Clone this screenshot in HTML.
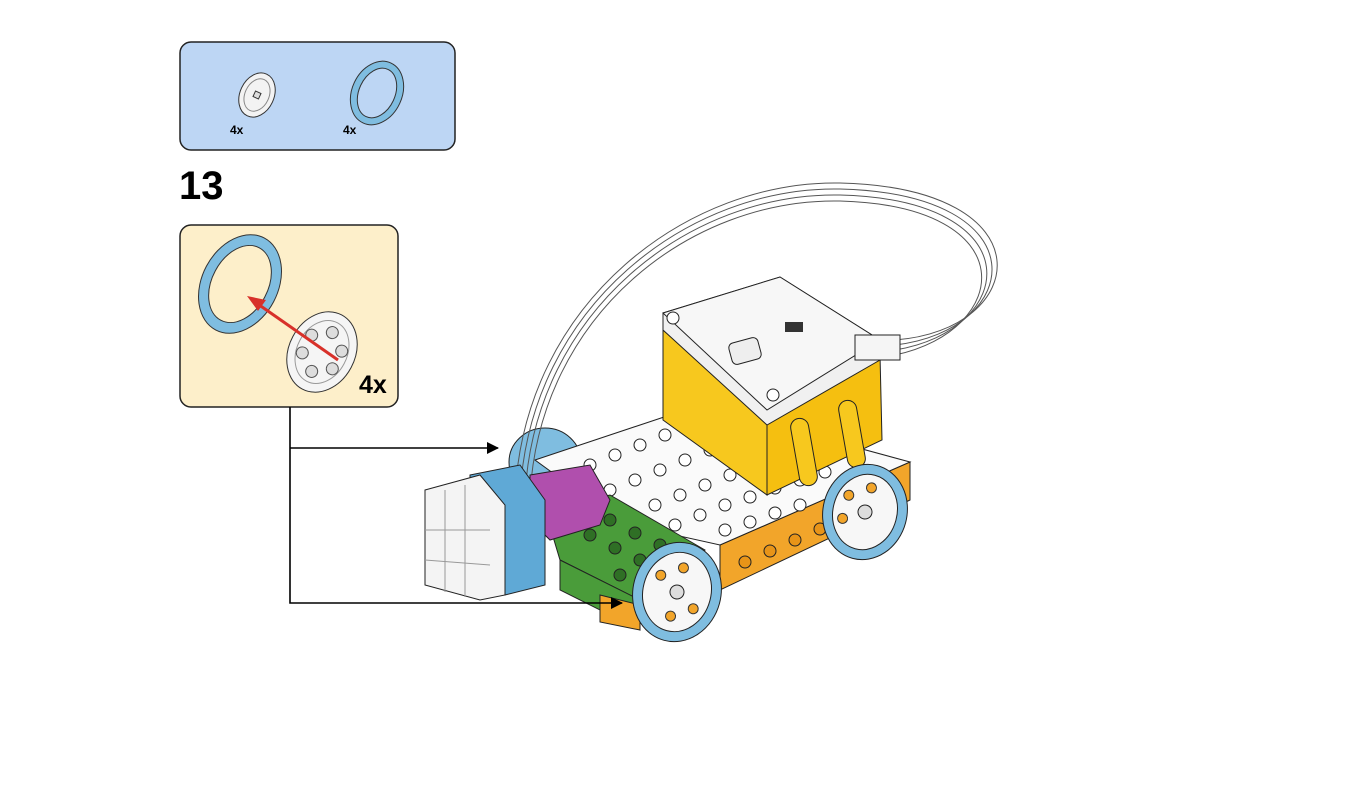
<!DOCTYPE html>
<html><head><meta charset="utf-8"><style>
html,body{margin:0;padding:0;background:#fff;}
svg{display:block;font-family:"Liberation Sans",sans-serif;}
</style></head><body>
<svg width="1349" height="803" viewBox="0 0 1349 803" xmlns="http://www.w3.org/2000/svg">
<defs>
<marker id="ar" markerWidth="12" markerHeight="12" refX="11" refY="6" orient="auto" markerUnits="userSpaceOnUse"><path d="M0,0 L12,6 L0,12z" fill="#000"/></marker>
</defs>
<!-- parts panel -->
<rect x="180" y="42" width="275" height="108" rx="11" fill="#bdd6f4" stroke="#222" stroke-width="1.5"/>
<g transform="translate(257,95) rotate(25)"><ellipse rx="17" ry="23" fill="#f3f3f3" stroke="#333"/><ellipse rx="12" ry="17" fill="none" stroke="#888"/><rect x="-3" y="-3" width="6" height="6" fill="#ddd" stroke="#333"/></g>
<g transform="translate(377,93) rotate(25)"><ellipse rx="25" ry="33" fill="#7fbde0" stroke="#333"/><ellipse rx="18" ry="26" fill="#bdd6f4" stroke="#333"/></g>
<text x="230" y="134" font-size="12" font-weight="bold">4x</text>
<text x="343" y="134" font-size="12" font-weight="bold">4x</text>
<text x="179" y="199" font-size="40" font-weight="bold">13</text>
<!-- step panel -->
<rect x="180" y="225" width="218" height="182" rx="11" fill="#fdefca" stroke="#222" stroke-width="1.5"/>
<g transform="translate(240,284) rotate(28)"><ellipse rx="38" ry="52" fill="#7fbde0" stroke="#333"/><ellipse rx="28" ry="41" fill="#fdefca" stroke="#333"/></g>
<g transform="translate(322,352) rotate(28)"><ellipse rx="33" ry="42" fill="#f5f5f5" stroke="#333"/><ellipse rx="25" ry="33" fill="none" stroke="#999"/>
<circle cx="0" cy="-22" r="6" fill="#ddd" stroke="#555"/><circle cx="0" cy="22" r="6" fill="#ddd" stroke="#555"/><circle cx="-17" cy="-10" r="6" fill="#ddd" stroke="#555"/><circle cx="17" cy="-10" r="6" fill="#ddd" stroke="#555"/><circle cx="-17" cy="10" r="6" fill="#ddd" stroke="#555"/><circle cx="17" cy="10" r="6" fill="#ddd" stroke="#555"/></g>
<line x1="338" y1="360" x2="255" y2="302" stroke="#d8312a" stroke-width="3"/>
<path d="M247,296 L266,300 L258,311z" fill="#d8312a"/>
<text x="359" y="393" font-size="25" font-weight="bold">4x</text>
<!-- back-left wheel -->
<ellipse cx="545" cy="462" rx="36" ry="34" fill="#7fbde0" stroke="#222"/>
<!-- orange beam -->
<polygon points="720,545 910,462 910,500 720,590" fill="#f2a52a" stroke="#222"/>
<g fill="#e89418" stroke="#222"><circle cx="745" cy="562" r="6"/><circle cx="770" cy="551" r="6"/><circle cx="795" cy="540" r="6"/><circle cx="820" cy="529" r="6"/><circle cx="845" cy="518" r="6"/></g>
<!-- white plate -->
<polygon points="535,460 700,405 910,462 720,545 630,525 590,500" fill="#fafafa" stroke="#222"/>
<g fill="#fff" stroke="#222">
<circle cx="590" cy="465" r="6"/><circle cx="615" cy="455" r="6"/><circle cx="640" cy="445" r="6"/><circle cx="665" cy="435" r="6"/>
<circle cx="610" cy="490" r="6"/><circle cx="635" cy="480" r="6"/><circle cx="660" cy="470" r="6"/><circle cx="685" cy="460" r="6"/><circle cx="710" cy="450" r="6"/>
<circle cx="655" cy="505" r="6"/><circle cx="680" cy="495" r="6"/><circle cx="705" cy="485" r="6"/><circle cx="730" cy="475" r="6"/><circle cx="755" cy="465" r="6"/>
<circle cx="675" cy="525" r="6"/><circle cx="700" cy="515" r="6"/><circle cx="725" cy="505" r="6"/><circle cx="750" cy="497" r="6"/><circle cx="775" cy="488" r="6"/><circle cx="800" cy="480" r="6"/><circle cx="825" cy="472" r="6"/>
<circle cx="725" cy="530" r="6"/><circle cx="750" cy="522" r="6"/><circle cx="775" cy="513" r="6"/><circle cx="800" cy="505" r="6"/>
</g>
<!-- green plate -->
<polygon points="545,510 610,495 705,550 640,600 560,560" fill="#4a9c3a" stroke="#222"/>
<polygon points="560,560 640,600 640,630 560,590" fill="#4a9c3a" stroke="#222"/>
<g fill="#2f6f25" stroke="#222"><circle cx="590" cy="535" r="6"/><circle cx="615" cy="548" r="6"/><circle cx="640" cy="560" r="6"/><circle cx="610" cy="520" r="6"/><circle cx="635" cy="533" r="6"/><circle cx="660" cy="545" r="6"/><circle cx="620" cy="575" r="6"/></g>
<polygon points="600,595 640,605 640,630 600,622" fill="#f2a52a" stroke="#222"/>
<!-- hub -->
<polygon points="663,330 767,420 767,495 663,420" fill="#f7c81e" stroke="#222"/>
<polygon points="767,420 880,355 882,440 767,495" fill="#f5bf10" stroke="#222"/>
<polygon points="663,313 780,277 880,340 880,360 767,425 663,330" fill="#f0f0f0" stroke="#222"/>
<polygon points="663,313 780,277 880,340 767,410" fill="#f7f7f7" stroke="#222"/>
<rect x="730" y="340" width="30" height="22" rx="5" fill="#eee" stroke="#222" transform="rotate(-15 745 351)"/>
<rect x="785" y="322" width="18" height="10" fill="#333"/>
<circle cx="673" cy="318" r="6" fill="#fff" stroke="#222"/><circle cx="773" cy="395" r="6" fill="#fff" stroke="#222"/>
<rect x="795" y="418" width="18" height="68" rx="9" fill="#f7c81e" stroke="#222" transform="rotate(-10 804 452)"/>
<rect x="843" y="400" width="18" height="68" rx="9" fill="#f7c81e" stroke="#222" transform="rotate(-10 852 434)"/>
<!-- cable -->
<g fill="none" stroke="#555" stroke-width="1">
<path d="M515,495 C525,300 690,180 840,183 C1050,188 1030,330 895,340"/>
<path d="M520,495 C530,305 690,186 840,189 C1042,194 1024,330 895,345"/>
<path d="M525,495 C535,310 690,192 840,195 C1034,200 1018,330 895,350"/>
<path d="M530,495 C540,315 690,198 840,201 C1026,206 1012,330 895,355"/>
</g>
<rect x="855" y="335" width="45" height="25" fill="#f5f5f5" stroke="#222"/>
<!-- magenta -->
<polygon points="530,475 590,465 610,500 600,525 550,540 530,520" fill="#b04fad" stroke="#222"/>
<!-- sensor -->
<polygon points="470,475 520,465 545,500 545,585 505,595 470,590" fill="#5fa9d6" stroke="#222"/>
<polygon points="425,490 480,475 505,505 505,595 480,600 425,585" fill="#f4f4f4" stroke="#222"/>
<g stroke="#999" fill="none"><line x1="425" y1="530" x2="490" y2="530"/><line x1="425" y1="560" x2="490" y2="565"/><line x1="445" y1="490" x2="445" y2="592"/><line x1="465" y1="485" x2="465" y2="597"/></g>
<!-- wheels -->
<g transform="translate(865,512) rotate(15)"><ellipse rx="42" ry="48" fill="#7fbde0" stroke="#222"/><ellipse rx="32" ry="38" fill="#f7f7f7" stroke="#222"/><circle r="7" fill="#ddd" stroke="#222"/>
<circle cx="0" cy="-25" r="5" fill="#f2a52a" stroke="#333"/><circle cx="-20" cy="-12" r="5" fill="#f2a52a" stroke="#333"/><circle cx="-20" cy="12" r="5" fill="#f2a52a" stroke="#333"/></g>
<g transform="translate(677,592) rotate(15)"><ellipse rx="44" ry="50" fill="#7fbde0" stroke="#222"/><ellipse rx="34" ry="40" fill="#f7f7f7" stroke="#222"/><circle r="7" fill="#ddd" stroke="#222"/>
<circle cx="0" cy="-25" r="5" fill="#f2a52a" stroke="#333"/><circle cx="0" cy="25" r="5" fill="#f2a52a" stroke="#333"/><circle cx="-20" cy="-12" r="5" fill="#f2a52a" stroke="#333"/><circle cx="20" cy="12" r="5" fill="#f2a52a" stroke="#333"/></g>
<!-- connectors (on top) -->
<path d="M290,407 V603 H622" fill="none" stroke="#000" stroke-width="1.6" marker-end="url(#ar)"/>
<path d="M290,448 H498" fill="none" stroke="#000" stroke-width="1.6" marker-end="url(#ar)"/>
</svg>
</body></html>
